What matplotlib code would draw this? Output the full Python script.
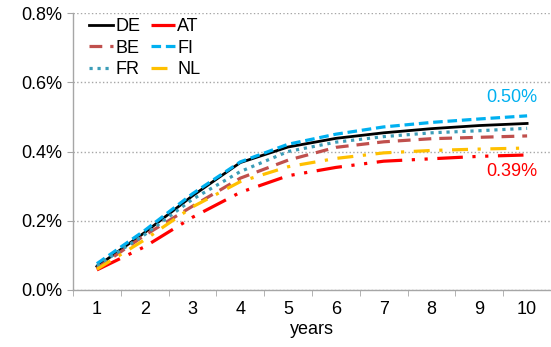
import matplotlib
matplotlib.use("Agg")
import matplotlib.pyplot as plt
from matplotlib.ticker import FuncFormatter, FixedLocator

plt.rcParams['font.family'] = ['Liberation Sans', 'DejaVu Sans']

years = [1, 2, 3, 4, 5, 6, 7, 8, 9, 10]
de = [0.068, 0.166, 0.272, 0.368, 0.413, 0.438, 0.454, 0.466, 0.475, 0.481]
fi = [0.076, 0.172, 0.278, 0.370, 0.421, 0.450, 0.471, 0.484, 0.494, 0.503]
fr = [0.070, 0.160, 0.262, 0.342, 0.400, 0.427, 0.443, 0.454, 0.460, 0.467]
be = [0.063, 0.158, 0.242, 0.323, 0.375, 0.412, 0.428, 0.437, 0.441, 0.445]
nl = [0.060, 0.145, 0.240, 0.313, 0.356, 0.380, 0.396, 0.403, 0.407, 0.410]
at = [0.058, 0.125, 0.210, 0.282, 0.330, 0.354, 0.372, 0.379, 0.386, 0.390]

fig = plt.figure(figsize=(5.51, 3.47), dpi=100)
ax = fig.add_axes([0.1325, 0.1643, 0.8675, 0.7982])

fs = 13
lw = 2.3
l_de, = ax.plot(years, de, color='black', lw=2.0, ls='-', label='DE')
l_at, = ax.plot(years, at, color='#FF0000', lw=lw, dashes=(8, 3, 1, 3, 1, 3), label='AT')
l_be, = ax.plot(years, be, color='#C0504D', lw=lw, dashes=(4, 2.5), label='BE')
l_fi, = ax.plot(years, fi, color='#00B0F0', lw=lw, dashes=(3, 1.5), label='FI')
l_fr, = ax.plot(years, fr, color='#3C9DB8', lw=lw, dashes=(1, 1.5), label='FR')
l_nl, = ax.plot(years, nl, color='#FFC000', lw=lw, dashes=(5, 3, 1, 3), label='NL')

ax.set_xlim(0.5, 10.5)
ax.set_ylim(0, 0.8)
ax.set_yticks([0, 0.2, 0.4, 0.6, 0.8])
ax.yaxis.set_major_formatter(FuncFormatter(lambda v, p: f"{v:.1f}%"))
ax.set_xticks(years)
ax.xaxis.set_minor_locator(FixedLocator([0.5 + i for i in range(11)]))
ax.tick_params(axis='x', which='major', length=0, labelsize=fs, colors='black', pad=8)
ax.tick_params(axis='x', which='minor', length=4, color='#A6A6A6', direction='out')
ax.tick_params(axis='y', length=4, color='#A6A6A6', labelsize=fs, pad=4)
ax.yaxis.grid(True, color='#A6A6A6', ls=':', lw=1.0)
ax.set_axisbelow(True)
for s in ['top', 'right']:
    ax.spines[s].set_visible(False)
for s in ['left', 'bottom']:
    ax.spines[s].set_color('#A6A6A6')
    ax.spines[s].set_linewidth(1.0)
ax.set_xlabel('years', fontsize=fs, labelpad=2)

handles = [l_de, l_be, l_fr, l_at, l_fi, l_nl]
ax.legend(handles=handles, labels=[h.get_label() for h in handles], ncol=2,
          loc='upper left', bbox_to_anchor=(0.0, 1.04), frameon=False, fontsize=fs,
          handlelength=1.3, handletextpad=0.15, columnspacing=0.6, labelspacing=0.25)

ax.text(9.67, 0.555, f"{fi[-1]:.2f}%", color='#00B0F0', ha='center', va='center', fontsize=fs)
ax.text(9.67, 0.341, f"{at[-1]:.2f}%", color='#FF0000', ha='center', va='center', fontsize=fs)

fig.savefig('out.png', dpi=100)
